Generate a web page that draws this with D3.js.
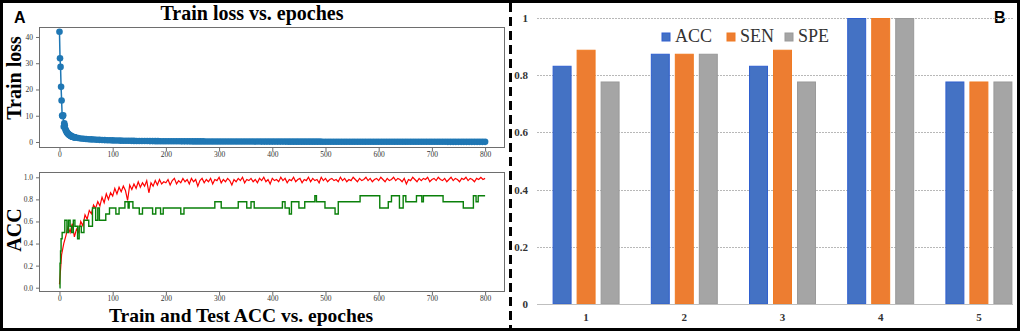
<!DOCTYPE html>
<html><head><meta charset="utf-8">
<script src="https://cdn.jsdelivr.net/npm/d3@7"></script>
<style>
html,body{margin:0;padding:0;background:#fff;}
svg{display:block;}
</style></head>
<body>
<svg id="c" width="1021" height="333"></svg>
<script>
// ---------- DATA ----------
// Panel A top: train loss (epochs 0..30 step 1, then 35..800 step 5)
const lossEarly = [42.0,31.9,28.6,21.0,15.8,10.1,9.8,10.2,5.8,7.1,6.3,4.9,4.4,4.1,3.6,3.4,3.1,2.9,2.8,2.6,2.5,2.4,2.2,2.1,2.0,1.95,1.9,1.85,1.8,1.75,1.7];
const lossLate = [1.50,1.35,1.25,1.15,1.05,0.98,0.92,0.86,0.81,0.76,
0.72,0.68,0.64,0.60,0.57,0.54,0.51,0.49,0.47,0.45,
0.43,0.41,0.40,0.38,0.37,0.36,0.35,0.34,0.33,0.32,
0.31,0.30,0.29,0.29,0.28,0.27,0.27,0.26,0.26,0.25,
0.25,0.24,0.24,0.23,0.23,0.22,0.22,0.22,0.21,0.21,
0.21,0.20,0.20,0.20,0.19,0.19,0.19,0.18,0.18,0.18,
0.18,0.17,0.17,0.17,0.17,0.16,0.16,0.16,0.16,0.15,
0.15,0.15,0.15,0.15,0.14,0.14,0.14,0.14,0.14,0.13,
0.13,0.13,0.13,0.13,0.13,0.12,0.12,0.12,0.12,0.12,
0.12,0.12,0.11,0.11,0.11,0.11,0.11,0.11,0.11,0.10,
0.10,0.10,0.10,0.10,0.10,0.10,0.10,0.09,0.09,0.09,
0.09,0.09,0.09,0.09,0.09,0.09,0.08,0.08,0.08,0.08,
0.08,0.08,0.08,0.08,0.08,0.08,0.08,0.07,0.07,0.07,
0.07,0.07,0.07,0.07,0.07,0.07,0.07,0.07,0.07,0.06,
0.06,0.06,0.06,0.06,0.06,0.06,0.06,0.06,0.06,0.06,
0.06,0.06,0.06,0.06];
const lossLateStart = 35, lossLateStep = 5;

// Panel A bottom: train ACC every 4 epochs (0..800)
const trainAccStep = 4;
const trainAcc = [0.03,0.30,0.40,0.47,0.55,0.50,0.58,0.46,0.53,0.50,
0.60,0.56,0.66,0.62,0.70,0.67,0.75,0.72,0.78,0.74,
0.82,0.77,0.85,0.80,0.86,0.83,0.90,0.85,0.91,0.87,
0.92,0.88,0.79,0.93,0.89,0.94,0.90,0.96,0.91,0.95,
0.92,0.97,0.86,0.95,0.92,0.97,0.93,0.98,0.94,0.96,
0.95,0.98,0.93,0.97,0.99,0.94,0.97,0.95,0.99,0.96,
0.98,0.94,0.99,0.96,0.98,0.92,0.97,0.99,0.95,0.98,
0.96,0.99,0.94,0.98,0.97,1.00,0.95,0.98,0.96,0.99,
0.97,0.93,0.98,0.96,0.99,0.97,1.00,0.95,0.98,0.97,
0.99,0.96,0.98,0.95,0.99,0.97,1.00,0.96,0.98,0.94,
0.99,0.97,0.98,0.96,1.00,0.97,0.99,0.95,0.98,0.97,
1.00,0.96,0.98,0.99,0.95,0.98,0.97,1.00,0.96,0.99,
0.97,0.98,0.95,1.00,0.97,0.99,0.96,0.98,0.99,0.97,
0.98,0.96,1.00,0.97,0.99,0.96,0.98,0.97,1.00,0.98,
0.96,0.99,0.97,0.98,1.00,0.97,0.99,0.96,0.98,0.99,
0.97,1.00,0.98,0.96,0.99,0.97,0.98,1.00,0.97,0.99,
0.98,0.96,0.99,0.94,0.98,0.97,1.00,0.98,0.96,0.99,
0.97,0.99,0.98,1.00,0.96,0.98,0.99,0.97,1.00,0.98,
0.97,0.99,0.96,0.98,1.00,0.97,0.99,0.98,0.96,0.99,
0.98,1.00,0.97,0.99,0.98,0.96,0.99,0.98,1.00,0.98,
0.99];

// Test ACC: [epoch where value starts, value] (step series)
const testAccSteps = [[0,0],[1,0.222],[2,0.333],[3,0.444],[5,0.5],[10,0.611],[14,0.5],[17,0.611],[20,0.556],[23,0.5],
[26,0.611],[29,0.556],[34,0.444],[37,0.556],[41,0.5],[46,0.611],[55,0.556],[62,0.722],[68,0.611],[72,0.722],
[75,0.611],[87,0.667],[94,0.722],[106,0.667],[112,0.722],[123,0.778],[129,0.722],[131,0.778],[138,0.722],[150,0.667],
[156,0.722],[175,0.667],[181,0.722],[190,0.667],[195,0.722],[228,0.667],[234,0.722],[292,0.778],[304,0.722],[336,0.778],
[352,0.722],[360,0.778],[366,0.722],[419,0.778],[424,0.722],[432,0.667],[436,0.778],[450,0.722],[461,0.778],[480,0.833],
[483,0.778],[499,0.722],[518,0.667],[524,0.778],[565,0.833],[602,0.722],[618,0.778],[624,0.833],[639,0.722],[646,0.833],
[651,0.778],[671,0.833],[681,0.778],[684,0.833],[721,0.778],[759,0.722],[778,0.833],[783,0.778],[787,0.833],[800,0.833]];

const lossYTicks = [0,10,20,30,40];
const epochTicks = [0,100,200,300,400,500,600,700,800];
const accYTicks = [0.0,0.2,0.4,0.6,0.8,1.0];

// Panel B
const folds = ["1","2","3","4","5"];
const metrics = ["ACC","SEN","SPE"];
const accVals = [0.833,0.875,0.833,1.0,0.778];
const senVals = [0.889,0.875,0.889,1.0,0.778];
const speVals = [0.778,0.875,0.778,1.0,0.778];
const barYTicks = [0,0.2,0.4,0.6,0.8,1];

// ---------- DRAW ----------
const svg = d3.select("#c");
const serif = "'Liberation Serif','Times New Roman',serif";
const sans = "'Liberation Sans',Arial,sans-serif";

// Panel A geometry
const fx0 = 39, fx1 = 505;
const x = d3.scaleLinear().domain([-38.5, 837.4]).range([fx0, fx1]);

function frameAxes(g, y, yTicks, fmt, top, bottom){
  g.append("rect").attr("x",fx0+0.5).attr("y",top+0.5).attr("width",fx1-fx0-1).attr("height",bottom-top-1)
    .attr("fill","none").attr("stroke","#6e6e6e").attr("stroke-width",1);
  const ax = g.append("g").attr("transform",`translate(0,${bottom})`)
    .call(d3.axisBottom(x).tickValues(epochTicks).tickSize(3).tickPadding(1));
  const ay = g.append("g").attr("transform",`translate(${fx0},0)`)
    .call(d3.axisLeft(y).tickValues(yTicks).tickFormat(fmt).tickSize(3).tickPadding(3));
  [ax,ay].forEach(a=>{
    a.select(".domain").remove();
    a.selectAll("line").attr("stroke","#6e6e6e");
    a.selectAll("text").attr("font-family",serif).attr("font-size",7.5).attr("fill","#333");
  });
}

// top plot
const yL = d3.scaleLinear().domain([-2.29, 43.8]).range([148, 27]);
const gTop = svg.append("g");
frameAxes(gTop, yL, lossYTicks, d3.format("d"), 27, 148);
const lossPts = lossEarly.map((v,i)=>[i,v]).concat(lossLate.map((v,i)=>[lossLateStart+i*lossLateStep, v]));
gTop.append("path").datum(lossPts)
  .attr("d", d3.line().x(d=>x(d[0])).y(d=>yL(d[1])))
  .attr("fill","none").attr("stroke","#1f77b4").attr("stroke-width",1.5);
gTop.selectAll("circle").data(lossPts).join("circle")
  .attr("cx",d=>x(d[0])).attr("cy",d=>yL(d[1])).attr("r",3.3).attr("fill","#1f77b4");

// bottom plot
const yA = d3.scaleLinear().domain([-0.039, 1.048]).range([292, 172]);
const gBot = svg.append("g");
frameAxes(gBot, yA, accYTicks, d3.format(".1f"), 172, 292);
const trainPts = trainAcc.map((v,i)=>[i*trainAccStep, v]);
gBot.append("path").datum(trainPts)
  .attr("d", d3.line().x(d=>x(d[0])).y(d=>yA(d[1])))
  .attr("fill","none").attr("stroke","#ff0000").attr("stroke-width",1.2);
gBot.append("path").datum(testAccSteps)
  .attr("d", d3.line().curve(d3.curveStepAfter).x(d=>x(d[0])).y(d=>yA(d[1])))
  .attr("fill","none").attr("stroke","#0a800a").attr("stroke-width",1.4);

// Panel A texts
svg.append("text").attr("x",252).attr("y",20).attr("text-anchor","middle")
  .attr("font-family",serif).attr("font-weight","bold").attr("font-size",20).text("Train loss vs. epoches");
svg.append("text").attr("x",241).attr("y",322).attr("text-anchor","middle")
  .attr("font-family",serif).attr("font-weight","bold").attr("font-size",19.5).text("Train and Test ACC vs. epoches");
svg.append("text").attr("transform","translate(21,78) rotate(-90)").attr("text-anchor","middle")
  .attr("font-family",serif).attr("font-weight","bold").attr("font-size",20).text("Train loss");
svg.append("text").attr("transform","translate(21,230) rotate(-90)").attr("text-anchor","middle")
  .attr("font-family",serif).attr("font-weight","bold").attr("font-size",20).text("ACC");
svg.append("text").attr("x",14).attr("y",23).attr("font-family",sans).attr("font-weight","bold")
  .attr("font-size",16).text("A");
svg.append("text").attr("x",994).attr("y",23).attr("font-family",sans).attr("font-weight","bold")
  .attr("font-size",16).text("B");

// Panel B
const yB = d3.scaleLinear().domain([0,1]).range([304, 18]);
const x0 = d3.scaleBand().domain(folds).range([537, 1028]).paddingInner(0.318).paddingOuter(0.159);
const x1 = d3.scaleBand().domain(metrics).range([0, x0.bandwidth()]).paddingInner(0.21);
const colors = {ACC:"#4472c4", SEN:"#ed7d31", SPE:"#a5a5a5"};
const strokes = {ACC:"#2f5fcf", SEN:"#f07a22", SPE:"#999999"};
const gB = svg.append("g");
// gridlines
gB.selectAll("line.grid").data(barYTicks.filter(d=>d>0)).join("line").attr("class","grid")
  .attr("x1",537).attr("x2",1013).attr("y1",d=>Math.round(yB(d))+0.5).attr("y2",d=>Math.round(yB(d))+0.5)
  .attr("stroke","#b8b8b8").attr("stroke-width",1).attr("stroke-dasharray","2,1");
const yAxB = gB.append("g").attr("transform","translate(537,0)")
  .call(d3.axisLeft(yB).tickValues(barYTicks).tickFormat(d=>d3.format("")(d)).tickSize(0).tickPadding(9));
yAxB.select(".domain").remove();
yAxB.selectAll("text").attr("font-family",serif).attr("font-weight","bold").attr("font-size",11).attr("fill","#333");

const seriesVals = {ACC:accVals, SEN:senVals, SPE:speVals};
const groups = gB.selectAll("g.fold").data(folds).join("g").attr("class","fold")
  .attr("transform",d=>`translate(${x0(d)},0)`);
groups.selectAll("rect").data((f,i)=>metrics.map(m=>({m, v:seriesVals[m][i]}))).join("rect")
  .attr("x",d=>x1(d.m)+0.5).attr("y",d=>yB(d.v)+0.5)
  .attr("width",x1.bandwidth()-1).attr("height",d=>yB(0)-yB(d.v)-0.5)
  .attr("fill",d=>colors[d.m]).attr("stroke",d=>strokes[d.m]).attr("stroke-width",1);
// baseline
gB.append("line").attr("x1",537).attr("x2",1013).attr("y1",304.5).attr("y2",304.5)
  .attr("stroke","#bfbfbf").attr("stroke-width",1);
const xAxB = gB.append("g").attr("transform","translate(0,304)")
  .call(d3.axisBottom(x0).tickSize(0).tickPadding(9));
xAxB.select(".domain").remove();
xAxB.selectAll("text").attr("font-family",serif).attr("font-weight","bold").attr("font-size",11).attr("fill","#333");

// legend
const legX = [662, 727, 785];
const leg = gB.selectAll("g.leg").data(metrics).join("g").attr("class","leg")
  .attr("transform",(d,i)=>`translate(${legX[i]},33)`);
leg.append("rect").attr("width",8).attr("height",8).attr("fill",d=>colors[d]).attr("stroke",d=>strokes[d]);
leg.append("text").attr("x",13).attr("y",8.5).attr("font-family",serif).attr("font-size",18)
  .attr("fill","#333").text(d=>d);

// separators / border
svg.append("line").attr("x1",510.5).attr("x2",510.5).attr("y1",3).attr("y2",330)
  .attr("stroke","#000").attr("stroke-width",3).attr("stroke-dasharray","9,5");
svg.append("rect").attr("x",1.5).attr("y",1.5).attr("width",1017).attr("height",328)
  .attr("fill","none").attr("stroke","#000").attr("stroke-width",3);
</script>
</body></html>
